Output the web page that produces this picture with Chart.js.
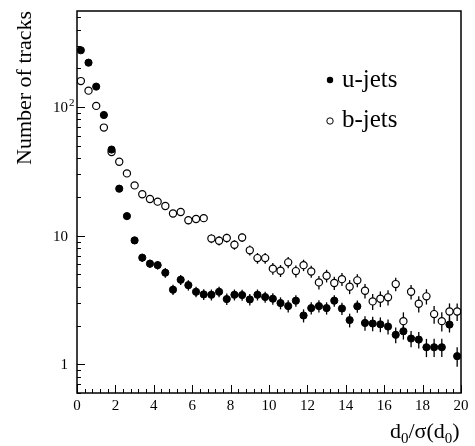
<!DOCTYPE html>
<html>
<head>
<meta charset="utf-8">
<script src="https://cdn.jsdelivr.net/npm/chart.js@4"></script>
<style>
  html, body { margin: 0; padding: 0; background: #fff; }
</style>
</head>
<body>
<canvas id="myChart" width="475" height="446"></canvas>
<script>
// bin centres of d0/sigma(d0), bin width 0.4
var binCenters = [0.2, 0.6, 1.0, 1.4, 1.8, 2.2, 2.6, 3.0, 3.4, 3.8,
                  4.2, 4.6, 5.0, 5.4, 5.8, 6.2, 6.6, 7.0, 7.4, 7.8,
                  8.2, 8.6, 9.0, 9.4, 9.8, 10.2, 10.6, 11.0, 11.4, 11.8,
                  12.2, 12.6, 13.0, 13.4, 13.8, 14.2, 14.6, 15.0, 15.4, 15.8,
                  16.2, 16.6, 17.0, 17.4, 17.8, 18.2, 18.6, 19.0, 19.4, 19.8];

var uJets = [276, 221, 144, 86.7, 46.7, 23.2, 14.2, 9.2, 6.75, 6.07,
             5.91, 5.16, 3.81, 4.55, 4.13, 3.67, 3.50, 3.48, 3.67, 3.22,
             3.48, 3.46, 3.20, 3.48, 3.34, 3.24, 3.00, 2.84, 3.13, 2.40,
             2.74, 2.84, 2.74, 3.13, 2.72, 2.21, 2.83, 2.10, 2.08, 2.05,
             1.97, 1.70, 1.81, 1.59, 1.56, 1.36, 1.36, 1.36, 2.04, 1.16];
var uErr = [4, 3.5, 2.8, 2.1, 1.5, 1.3, 0.9, 0.6, 0.5, 0.45,
            0.45, 0.45, 0.35, 0.4, 0.38, 0.35, 0.34, 0.34, 0.35, 0.33,
            0.34, 0.34, 0.33, 0.34, 0.33, 0.33, 0.32, 0.31, 0.32, 0.28,
            0.30, 0.31, 0.30, 0.32, 0.30, 0.27, 0.31, 0.27, 0.27, 0.27,
            0.26, 0.24, 0.25, 0.23, 0.23, 0.22, 0.22, 0.22, 0.27, 0.20];

var bJets = [159, 134, 102, 69.2, 44.7, 37.6, 30.5, 24.6, 21.0, 19.3,
             18.4, 17.0, 14.9, 15.3, 13.2, 13.5, 13.7, 9.5, 9.15, 9.6,
             8.5, 9.7, 7.7, 6.7, 6.7, 5.55, 5.35, 6.21, 5.31, 5.91,
             5.28, 4.34, 4.89, 4.29, 4.60, 4.02, 4.50, 3.74, 3.09, 3.24,
             3.32, 4.21, 2.17, 3.67, 2.96, 3.38, 2.46, 2.17, 2.58, 2.58];
var bErr = [3, 2.9, 2.5, 2.1, 1.7, 1.5, 1.4, 1.2, 1.15, 1.1,
            1.1, 1.0, 0.95, 0.95, 0.9, 0.9, 0.9, 0.75, 0.75, 0.75,
            0.72, 0.76, 0.68, 0.64, 0.64, 0.58, 0.57, 0.61, 0.57, 0.6,
            0.57, 0.52, 0.55, 0.51, 0.53, 0.5, 0.52, 0.48, 0.44, 0.45,
            0.45, 0.51, 0.37, 0.48, 0.43, 0.46, 0.39, 0.37, 0.4, 0.4];

var seriesNames = ['u-jets', 'b-jets'];
var yTickLabels = [1, 10, 100];

var serif = "'Liberation Serif', 'Times New Roman', serif";

function points(ys, errs) {
    return binCenters.map(function (x, i) {
        return { x: x, y: ys[i], err: errs[i] };
    });
}

// vertical error bars, drawn under the markers
var errorBars = {
    id: 'errorBars',
    beforeDatasetsDraw: function (chart) {
        var ctx = chart.ctx, ys = chart.scales.y, xs = chart.scales.x;
        ctx.save();
        ctx.strokeStyle = '#000';
        ctx.lineWidth = 1.3;
        chart.data.datasets.forEach(function (ds) {
            ds.data.forEach(function (p) {
                var px = xs.getPixelForValue(p.x);
                ctx.beginPath();
                ctx.moveTo(px, ys.getPixelForValue(p.y + p.err));
                ctx.lineTo(px, ys.getPixelForValue(Math.max(p.y - p.err, 0.01)));
                ctx.stroke();
            });
        });
        ctx.restore();
    }
};

// frame, inward tick marks, y labels, axis titles and legend
var frame = {
    id: 'frame',
    afterDraw: function (chart) {
        var ctx = chart.ctx, a = chart.chartArea;
        var xs = chart.scales.x, ys = chart.scales.y;
        ctx.save();
        ctx.strokeStyle = '#000';
        ctx.fillStyle = '#000';

        ctx.lineWidth = 1;
        ctx.beginPath();
        xs.ticks.forEach(function (t) {
            var px = Math.round(xs.getPixelForValue(t.value)) + 0.5;
            var major = Math.abs(t.value / 2 - Math.round(t.value / 2)) < 1e-6;
            ctx.moveTo(px, a.bottom);
            ctx.lineTo(px, a.bottom - (major ? 8 : 4));
        });
        ys.ticks.forEach(function (t) {
            var lg = Math.log10(t.value);
            var m = t.value / Math.pow(10, Math.floor(lg + 1e-9));
            if (Math.abs(m - Math.round(m)) > 1e-6) return;
            var major = Math.abs(lg - Math.round(lg)) < 1e-6;
            var py = Math.round(ys.getPixelForValue(t.value)) + 0.5;
            ctx.moveTo(a.left, py);
            ctx.lineTo(a.left + (major ? 8 : 4), py);
        });
        ctx.stroke();

        ctx.lineWidth = 1.5;
        ctx.strokeRect(a.left, a.top, a.right - a.left, a.bottom - a.top);

        // y tick labels
        ctx.font = '15px ' + serif;
        ctx.textAlign = 'right';
        ctx.textBaseline = 'middle';
        yTickLabels.forEach(function (v) {
            var py = ys.getPixelForValue(v);
            if (v === 100) {
                ctx.fillText('10', a.left - 9, py + 1);
                ctx.font = '11px ' + serif;
                ctx.textAlign = 'left';
                ctx.fillText('2', a.left - 8, py - 4);
                ctx.font = '15px ' + serif;
                ctx.textAlign = 'right';
            } else {
                ctx.fillText(String(v), a.left - 9, py + 1);
            }
        });

        // y title
        ctx.save();
        ctx.translate(31, (a.top + 165) / 2);
        ctx.rotate(-Math.PI / 2);
        ctx.font = '22px ' + serif;
        ctx.textAlign = 'center';
        ctx.textBaseline = 'alphabetic';
        ctx.fillText('Number of tracks', 0, 0);
        ctx.restore();

        // x title d0/σ(d0)
        ctx.textAlign = 'left';
        ctx.textBaseline = 'alphabetic';
        var parts = [['d', 0], ['0', 1], ['/\u03c3(d', 0], ['0', 1], [')', 0]];
        var tx = 390, base = 438;
        parts.forEach(function (p) {
            ctx.font = (p[1] ? '15px ' : '22px ') + serif;
            ctx.fillText(p[0], tx, base + (p[1] ? 5 : 0));
            tx += ctx.measureText(p[0]).width;
        });

        // legend
        ctx.font = '25px ' + serif;
        ctx.lineWidth = 1;
        ctx.beginPath();
        ctx.arc(330, 80, 3.2, 0, Math.PI * 2);
        ctx.fill();
        ctx.fillText(seriesNames[0], 342, 87);
        ctx.beginPath();
        ctx.arc(330, 121, 3.2, 0, Math.PI * 2);
        ctx.stroke();
        ctx.fillText(seriesNames[1], 342, 127);

        ctx.restore();
    }
};

var ctx = document.getElementById('myChart').getContext('2d');
var chart = new Chart(ctx, {
    type: 'scatter',
    data: {
        datasets: [{
            label: seriesNames[0],
            data: points(uJets, uErr),
            pointRadius: 3.6,
            pointBackgroundColor: '#000',
            pointBorderColor: '#000',
            pointBorderWidth: 1
        }, {
            label: seriesNames[1],
            data: points(bJets, bErr),
            pointRadius: 3.6,
            pointBackgroundColor: '#fff',
            pointBorderColor: '#000',
            pointBorderWidth: 1.2
        }]
    },
    options: {
        responsive: false,
        animation: false,
        layout: { padding: { top: 11, right: 14, left: 0, bottom: 0 } },
        plugins: { legend: { display: false }, tooltip: { enabled: false } },
        scales: {
            x: {
                type: 'linear',
                min: 0,
                max: 20,
                afterFit: function (s) { s.height = 53; },
                grid: { display: false, drawTicks: false },
                border: { display: false },
                ticks: {
                    stepSize: 0.4,
                    autoSkip: false,
                    maxRotation: 0,
                    padding: 4,
                    color: '#000',
                    font: { family: serif, size: 15 },
                    callback: function (v) {
                        return Math.abs(v / 2 - Math.round(v / 2)) < 1e-6 ? String(Math.round(v)) : '';
                    }
                }
            },
            y: {
                type: 'logarithmic',
                min: 0.6,
                max: 557,
                afterFit: function (s) { s.width = 77; },
                grid: { display: false, drawTicks: false },
                border: { display: false },
                ticks: { display: false }
            }
        }
    },
    plugins: [errorBars, frame]
});
</script>
</body>
</html>
